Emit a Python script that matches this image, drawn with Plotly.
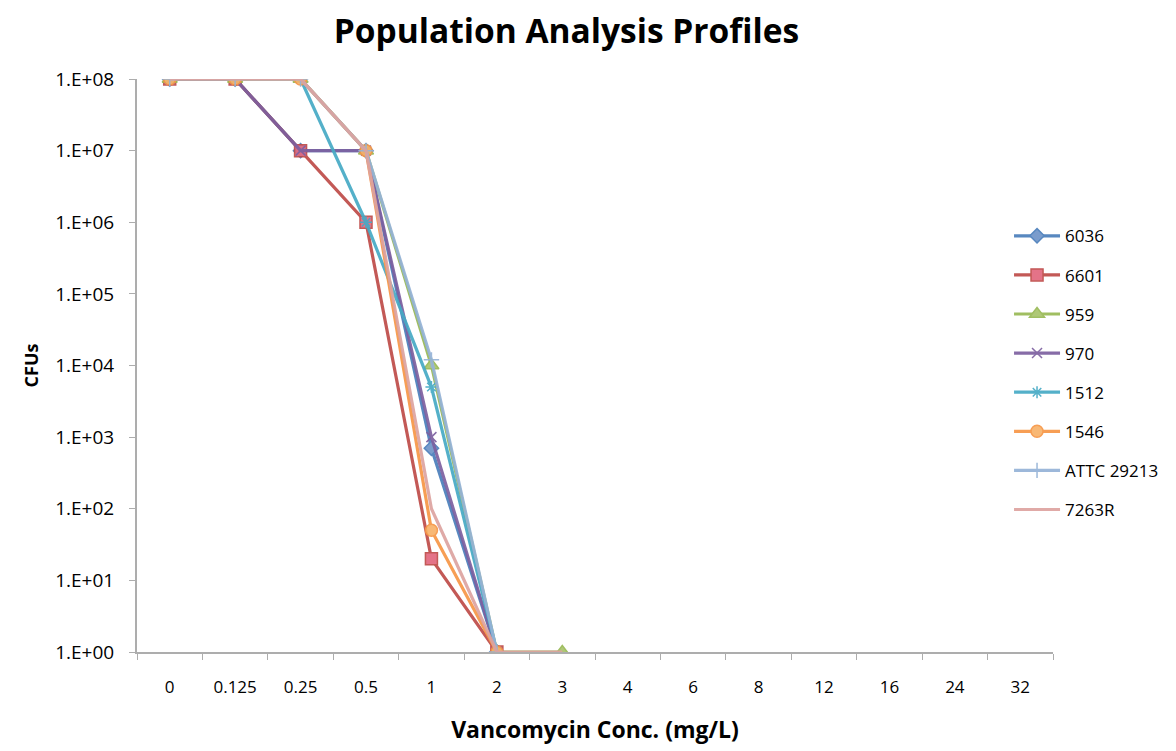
import plotly.graph_objects as go

# Vancomycin concentrations (mg/L), shown as evenly spaced categories
conc = ["0", "0.125", "0.25", "0.5", "1", "2", "3", "4", "6", "8", "12", "16", "24", "32"]

# CFU counts per strain; None where no count was recorded
cfu_6036 = [1e8, 1e8, 1e7, 1e7, 7e2, 1, None]
cfu_6601 = [1e8, 1e8, 1e7, 1e6, 20, 1, None]
cfu_959 = [1e8, 1e8, 1e8, 1e7, 1e4, 1, 1]
cfu_970 = [1e8, 1e8, 1e7, 1e7, 1e3, 1, None]
cfu_1512 = [1e8, 1e8, 1e8, 1e6, 5e3, 1, None]
cfu_1546 = [1e8, 1e8, 1e8, 1e7, 50, 1, None]
cfu_attc = [1e8, 1e8, 1e8, 1e7, 1.2e4, 1, None]
cfu_7263r = [1e8, 1e8, 1e8, 1e7, 100, 1, 1]

# name, values, line colour, marker symbol, marker size, marker fill
series = [
    ("6036", cfu_6036, "#4A7EBB", "diamond", 11, "#6F94C8"),
    ("6601", cfu_6601, "#BE4B48", "square", 12, "#E2687E"),
    ("959", cfu_959, "#98B954", "triangle-up", 13, "#A9C46C"),
    ("970", cfu_970, "#7D60A0", "x-thin", 10, "#7D60A0"),
    ("1512", cfu_1512, "#46AAC5", "asterisk", 10, "#46AAC5"),
    ("1546", cfu_1546, "#F79646", "circle", 12, "#F8B36A"),
    ("ATTC 29213", cfu_attc, "#95B3D7", "cross-thin", 11, "#95B3D7"),
    ("7263R", cfu_7263r, "#DDA3A0", None, 0, None),
]

ytick_vals = [1, 10, 100, 1e3, 1e4, 1e5, 1e6, 1e7, 1e8]
ytick_text = ["1.E+00", "1.E+01", "1.E+02", "1.E+03", "1.E+04",
              "1.E+05", "1.E+06", "1.E+07", "1.E+08"]

FONT = "'Open Sans', sans-serif"

fig = go.Figure()
for name, vals, color, symbol, size, fill in series:
    xs = conc[:len(vals)]
    if symbol is None:
        mode = "lines"
        marker = None
    else:
        mode = "lines+markers"
        marker = dict(symbol=symbol, size=size, color=fill,
                      line=dict(color=color, width=1.5))
    fig.add_trace(go.Scatter(
        x=xs, y=vals, name=name, mode=mode, legendgroup=name,
        line=dict(color=color, width=3.2), marker=marker,
        opacity=0.92, connectgaps=False,
    ))

fig.update_layout(
    width=1176, height=751,
    margin=dict(l=137, r=121, t=79, b=97),
    paper_bgcolor="white", plot_bgcolor="white",
    font=dict(family=FONT, size=16, color="#000000"),
    title=dict(text="<b>Population Analysis Profiles</b>",
               font=dict(family=FONT, size=33.5, color="#000000"),
               x=0.4817, xanchor="center", y=0.958, yanchor="middle"),
    showlegend=True,
    legend=dict(x=0.952, xanchor="left", y=0.757, yanchor="top",
                font=dict(family=FONT, size=17), tracegroupgap=14,
                bgcolor="rgba(0,0,0,0)", itemwidth=46),
    xaxis=dict(
        type="category", categoryorder="array", categoryarray=conc,
        tickvals=conc, range=[-0.5, len(conc) - 0.5],
        showline=True, linecolor="#ADADAD", linewidth=2,
        ticks="outside", tickson="boundaries", ticklen=6, tickcolor="#ADADAD",
        ticklabelstandoff=19,
        showgrid=False, zeroline=False,
        tickfont=dict(family=FONT, size=17),
        title=dict(text="<b>Vancomycin Conc. (mg/L)</b>",
                   font=dict(family=FONT, size=23), standoff=24),
    ),
    yaxis=dict(
        type="log", range=[0, 8],
        tickvals=ytick_vals, ticktext=ytick_text,
        showline=True, linecolor="#ADADAD", linewidth=2,
        ticks="outside", ticklen=6, tickcolor="#ADADAD",
        ticklabelstandoff=11,
        showgrid=False, zeroline=False,
        tickfont=dict(family=FONT, size=19),
        title=dict(text="<b>CFUs</b>", font=dict(family=FONT, size=18),
                   standoff=12),
    ),
)

fig.write_html("out.html")
